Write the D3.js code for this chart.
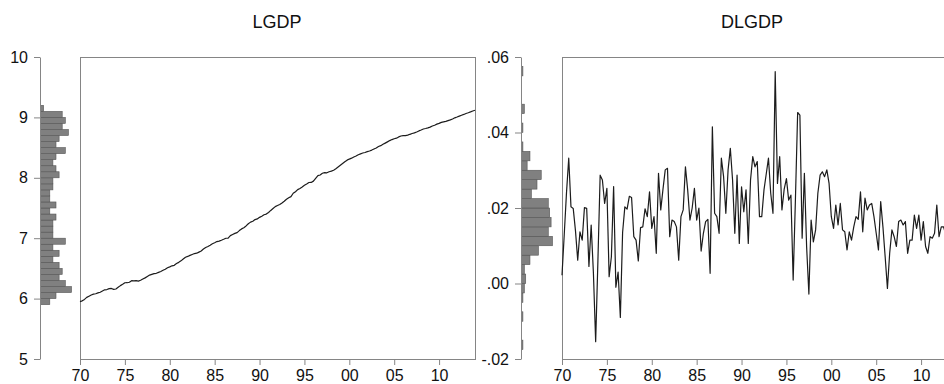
<!DOCTYPE html>
<html>
<head>
<meta charset="utf-8">
<script src="https://cdn.jsdelivr.net/npm/d3@7"></script>
<style>
  html, body { margin: 0; padding: 0; background: #fff; }
  svg { display: block; }
</style>
</head>
<body>
<svg id="chart" width="944" height="384"></svg>
<script>
// Quarterly observations, first one is 1970Q1
const firstYear = 1970;
const periodsPerYear = 4;

// Log of GDP, 1970Q1 .. 2014Q1
const lgdp = [
  5.950, 5.963, 5.987, 6.020, 6.040, 6.060, 6.074, 6.080, 6.094, 6.106,
  6.126, 6.146, 6.150, 6.166, 6.168, 6.153, 6.159, 6.188, 6.215, 6.236,
  6.262, 6.263, 6.271, 6.296, 6.295, 6.298, 6.289, 6.303, 6.323, 6.343,
  6.366, 6.389, 6.401, 6.413, 6.419, 6.434, 6.449, 6.468, 6.486, 6.510,
  6.525, 6.543, 6.551, 6.580, 6.600, 6.625, 6.655, 6.685, 6.698, 6.715,
  6.731, 6.746, 6.752, 6.770, 6.789, 6.820, 6.845, 6.862, 6.882, 6.907,
  6.924, 6.944, 6.952, 6.966, 6.982, 6.999, 7.002, 7.043, 7.062, 7.080,
  7.093, 7.126, 7.154, 7.173, 7.203, 7.239, 7.266, 7.280, 7.308, 7.319,
  7.345, 7.364, 7.388, 7.399, 7.426, 7.460, 7.491, 7.523, 7.541, 7.558,
  7.583, 7.612, 7.645, 7.669, 7.688, 7.744, 7.770, 7.804, 7.823, 7.848,
  7.876, 7.898, 7.922, 7.923, 7.945, 7.990, 8.035, 8.047, 8.076, 8.086,
  8.083, 8.100, 8.111, 8.125, 8.149, 8.178, 8.207, 8.236, 8.266, 8.292,
  8.310, 8.325, 8.345, 8.361, 8.382, 8.396, 8.410, 8.419, 8.433, 8.444,
  8.459, 8.477, 8.494, 8.518, 8.532, 8.554, 8.574, 8.595, 8.616, 8.633,
  8.647, 8.656, 8.677, 8.692, 8.699, 8.698, 8.706, 8.720, 8.733, 8.743,
  8.759, 8.776, 8.791, 8.808, 8.816, 8.827, 8.839, 8.857, 8.871, 8.889,
  8.901, 8.917, 8.927, 8.935, 8.947, 8.959, 8.973, 8.993, 9.006, 9.021,
  9.036, 9.049, 9.065, 9.077, 9.091, 9.106, 9.119
];

// Quarterly log difference of GDP, 1970Q1 .. 2014Q1
const dlgdp = [
  0.0022, 0.0130, 0.0240, 0.0332, 0.0203, 0.0199, 0.0140, 0.0062, 0.0137, 0.0115,
  0.0201, 0.0199, 0.0045, 0.0155, 0.0027, -0.0154, 0.0060, 0.0287, 0.0274, 0.0212,
  0.0252, 0.0018, 0.0071, 0.0257, -0.0010, 0.0030, -0.0090, 0.0135, 0.0203, 0.0197,
  0.0231, 0.0228, 0.0124, 0.0115, 0.0060, 0.0148, 0.0150, 0.0198, 0.0177, 0.0243,
  0.0146, 0.0177, 0.0080, 0.0292, 0.0195, 0.0250, 0.0301, 0.0305, 0.0124, 0.0168,
  0.0164, 0.0150, 0.0062, 0.0177, 0.0195, 0.0309, 0.0248, 0.0168, 0.0200, 0.0252,
  0.0168, 0.0200, 0.0086, 0.0133, 0.0164, 0.0170, 0.0027, 0.0415, 0.0186, 0.0177,
  0.0133, 0.0332, 0.0283, 0.0186, 0.0301, 0.0358, 0.0274, 0.0133, 0.0287, 0.0106,
  0.0256, 0.0190, 0.0248, 0.0106, 0.0274, 0.0336, 0.0309, 0.0323, 0.0177, 0.0177,
  0.0248, 0.0290, 0.0332, 0.0239, 0.0186, 0.0561, 0.0265, 0.0336, 0.0195, 0.0250,
  0.0278, 0.0221, 0.0234, 0.0009, 0.0221, 0.0453, 0.0446, 0.0120, 0.0292, 0.0097,
  -0.0028, 0.0168, 0.0110, 0.0142, 0.0239, 0.0287, 0.0296, 0.0283, 0.0301, 0.0265,
  0.0177, 0.0146, 0.0208, 0.0155, 0.0212, 0.0142, 0.0137, 0.0089, 0.0137, 0.0115,
  0.0150, 0.0177, 0.0170, 0.0243, 0.0137, 0.0226, 0.0195, 0.0208, 0.0212, 0.0177,
  0.0133, 0.0089, 0.0217, 0.0150, 0.0070, -0.0013, 0.0080, 0.0142, 0.0124, 0.0098,
  0.0164, 0.0168, 0.0155, 0.0164, 0.0080, 0.0115, 0.0115, 0.0181, 0.0146, 0.0181,
  0.0115, 0.0164, 0.0098, 0.0080, 0.0124, 0.0120, 0.0133, 0.0208, 0.0124, 0.0150,
  0.0150, 0.0130, 0.0160, 0.0120, 0.0140, 0.0150, 0.0130
];

// Marginal histograms: first bin edge, bin width, counts (ascending bins)
const lgdpBinStart = 5.9;
const lgdpBinWidth = 0.1;
const lgdpBinCounts = [3, 5, 10, 8, 6, 7, 6, 4, 6, 4, 8, 4, 4, 4, 5, 3, 5,
                       3, 3, 4, 4, 6, 5, 4, 5, 8, 5, 6, 9, 7, 8, 7, 1];

const dlgdpBinStart = -0.0175;
const dlgdpBinWidth = 0.0025;
const dlgdpBinCounts = [1, 0, 0, 1, 0, 1, 2, 3, 2, 6, 12, 22, 19, 21, 20,
                        19, 7, 11, 14, 4, 6, 1, 0, 1, 0, 2, 0, 0, 0, 1];

// Axis ticks
const yearTicks = [1970, 1975, 1980, 1985, 1990, 1995, 2000, 2005, 2010];
const lgdpTicks = [5, 6, 7, 8, 9, 10];
const dlgdpTicks = [-0.02, 0.00, 0.02, 0.04, 0.06];

// ---- layout ----
const plotTop = 57, plotBottom = 359;
const histMaxLen = 31;
const lineColor = "#1c1c1c";
const axisColor = "#858585";
const fontFamily = '"Liberation Sans", Arial, Helvetica, sans-serif';

const yearLabel = d => String(d % 100).padStart(2, "0");
const fmtLgdp = d3.format("d");
// two decimals without the leading zero: .06, .00, -.02
const fmtD = d => {
  const s = Math.abs(d).toFixed(2).replace(/^0\./, ".");
  return (d < 0 ? "-" : "") + s;
};

const panels = [
  { title: "LGDP", titleX: 277, histAxisX: 40, frameLeft: 80, frameRight: 475,
    yDomain: [5, 10], yTicks: lgdpTicks, yFormat: fmtLgdp,
    series: lgdp, binStart: lgdpBinStart, binWidth: lgdpBinWidth, binCounts: lgdpBinCounts },
  { title: "DLGDP", titleX: 752, histAxisX: 521, frameLeft: 562, frameRight: 957,
    yDomain: [-0.02, 0.06], yTicks: dlgdpTicks, yFormat: fmtD,
    series: dlgdp, binStart: dlgdpBinStart, binWidth: dlgdpBinWidth, binCounts: dlgdpBinCounts }
];

const svg = d3.select("#chart");
svg.append("rect").attr("width", 944).attr("height", 384).attr("fill", "#fff");

panels.forEach(p => {
  const g = svg.append("g");

  const x = d3.scaleLinear()
    .domain([firstYear, firstYear + (p.series.length - 1) / periodsPerYear])
    .range([p.frameLeft, p.frameRight]);
  const y = d3.scaleLinear().domain(p.yDomain).range([plotBottom, plotTop]);
  const hx = d3.scaleLinear().domain([0, d3.max(p.binCounts)]).range([0, histMaxLen]);

  // title
  g.append("text")
    .attr("x", p.titleX).attr("y", 28)
    .attr("text-anchor", "middle")
    .attr("font-family", fontFamily).attr("font-size", 18)
    .attr("fill", "#111")
    .text(p.title);

  // histogram bars hanging off the value axis
  const bins = p.binCounts.map((c, k) => ({
    lo: p.binStart + k * p.binWidth,
    hi: p.binStart + (k + 1) * p.binWidth,
    count: c
  })).filter(b => b.count > 0);

  g.append("g").selectAll("rect").data(bins).join("rect")
    .attr("x", p.histAxisX + 0.5)
    .attr("y", b => y(b.hi))
    .attr("width", b => hx(b.count))
    .attr("height", b => y(b.lo) - y(b.hi))
    .attr("fill", "#808080")
    .attr("stroke", "#555")
    .attr("stroke-width", 0.6);

  // value axis
  const yAxis = d3.axisLeft(y)
    .tickValues(p.yTicks)
    .tickFormat(p.yFormat)
    .tickSize(6)
    .tickSizeOuter(0)
    .tickPadding(6);
  const ya = g.append("g")
    .attr("transform", `translate(${p.histAxisX},0)`)
    .call(yAxis)
    .attr("font-family", fontFamily)
    .attr("font-size", 16);
  ya.select(".domain").attr("stroke", axisColor);
  ya.selectAll(".tick line").attr("stroke", axisColor);
  ya.selectAll(".tick text").attr("fill", "#111");

  // frame
  g.append("rect")
    .attr("x", p.frameLeft + 0.5).attr("y", plotTop + 0.5)
    .attr("width", p.frameRight - p.frameLeft)
    .attr("height", plotBottom - plotTop)
    .attr("fill", "none")
    .attr("stroke", axisColor);

  // date axis
  const xAxis = d3.axisBottom(x)
    .tickValues(yearTicks)
    .tickFormat(yearLabel)
    .tickSize(6)
    .tickSizeOuter(0)
    .tickPadding(5);
  const xa = g.append("g")
    .attr("transform", `translate(0,${plotBottom})`)
    .call(xAxis)
    .attr("font-family", fontFamily)
    .attr("font-size", 16);
  xa.select(".domain").remove();
  xa.selectAll(".tick line").attr("stroke", axisColor);
  xa.selectAll(".tick text").attr("fill", "#111");

  // series line
  const line = d3.line()
    .x((d, i) => x(firstYear + i / periodsPerYear))
    .y(d => y(d));
  g.append("path")
    .datum(p.series)
    .attr("d", line)
    .attr("fill", "none")
    .attr("stroke", lineColor)
    .attr("stroke-width", 1.2)
    .attr("stroke-linejoin", "round");
});
</script>
</body>
</html>
